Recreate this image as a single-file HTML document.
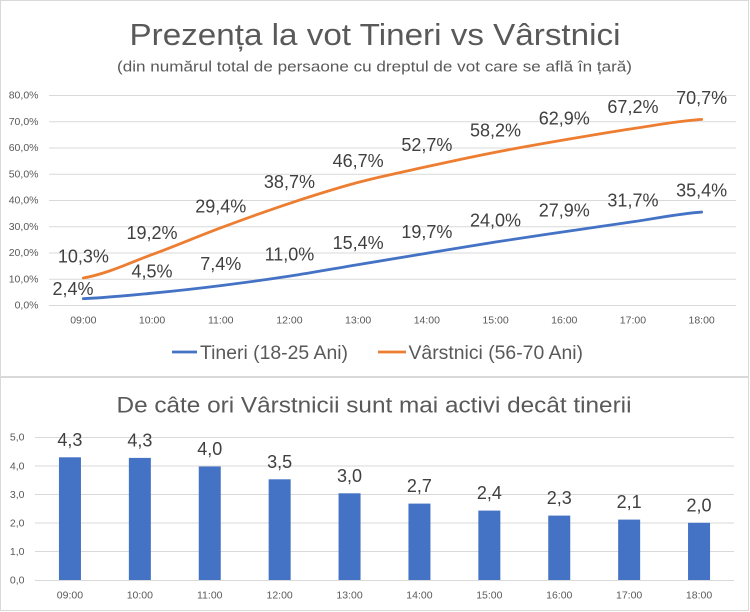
<!DOCTYPE html>
<html>
<head>
<meta charset="utf-8">
<style>
  html, body { margin:0; padding:0; background:#ffffff; }
  svg { display:block; }
  text { font-family: "Liberation Sans", Arial, sans-serif; }
</style>
</head>
<body>
<svg width="750" height="612" viewBox="0 0 750 612" xmlns="http://www.w3.org/2000/svg">
  <rect x="0" y="0" width="750" height="612" fill="#ffffff"/>
  <!-- panel borders -->
  <rect x="0.5" y="0.5" width="748" height="376" fill="#ffffff" stroke="#d9d9d9" stroke-width="1"/>
  <rect x="0.5" y="377.5" width="748" height="233" fill="#ffffff" stroke="#d9d9d9" stroke-width="1"/>

  <!-- ===== TOP CHART ===== -->
  <text x="129.5" y="45" font-size="31" fill="#595959" textLength="491" lengthAdjust="spacingAndGlyphs">Prezența la vot Tineri vs Vârstnici</text>
  <text x="117" y="71.5" font-size="15" fill="#595959" textLength="515" lengthAdjust="spacingAndGlyphs">(din numărul total de persaone cu dreptul de vot care se află în țară)</text>

  <!-- gridlines -->
  <g stroke="#d9d9d9" stroke-width="1">
    <line x1="49" y1="95.5" x2="736" y2="95.5"/>
    <line x1="49" y1="121.75" x2="736" y2="121.75"/>
    <line x1="49" y1="148" x2="736" y2="148"/>
    <line x1="49" y1="174.25" x2="736" y2="174.25"/>
    <line x1="49" y1="200.5" x2="736" y2="200.5"/>
    <line x1="49" y1="226.75" x2="736" y2="226.75"/>
    <line x1="49" y1="253" x2="736" y2="253"/>
    <line x1="49" y1="279.25" x2="736" y2="279.25"/>
    <line x1="49" y1="305.5" x2="736" y2="305.5"/>
  </g>

  <!-- y labels -->
  <g font-size="10.5" fill="#595959" text-anchor="end">
    <text x="38.5" y="98.7">80,0%</text>
    <text x="38.5" y="124.9">70,0%</text>
    <text x="38.5" y="151.2">60,0%</text>
    <text x="38.5" y="177.4">50,0%</text>
    <text x="38.5" y="203.7">40,0%</text>
    <text x="38.5" y="229.9">30,0%</text>
    <text x="38.5" y="256.2">20,0%</text>
    <text x="38.5" y="282.4">10,0%</text>
    <text x="38.5" y="308.7">0,0%</text>
  </g>

  <!-- x labels -->
  <g font-size="10.5" fill="#595959" text-anchor="middle">
    <text x="83.35" y="323.3">09:00</text>
    <text x="152.05" y="323.3">10:00</text>
    <text x="220.75" y="323.3">11:00</text>
    <text x="289.45" y="323.3">12:00</text>
    <text x="358.15" y="323.3">13:00</text>
    <text x="426.85" y="323.3">14:00</text>
    <text x="495.55" y="323.3">15:00</text>
    <text x="564.25" y="323.3">16:00</text>
    <text x="632.95" y="323.3">17:00</text>
    <text x="701.65" y="323.3">18:00</text>
  </g>

  <!-- series -->
  <path fill="none" stroke="#4472C4" stroke-width="2.8" stroke-linecap="round" stroke-linejoin="round"
    d="M83.35,298.7 C106.25,297.78 129.15,295.38 152.05,293.19 C174.95,291.0 197.85,288.42 220.75,285.58 C243.65,282.74 266.55,279.63 289.45,276.13 C312.35,272.63 335.25,268.39 358.15,264.58 C381.05,260.77 403.95,257.05 426.85,253.29 C449.75,249.53 472.65,245.59 495.55,242 C518.45,238.41 541.35,235.13 564.25,231.76 C587.15,228.39 610.05,225.07 632.95,221.79 C655.85,218.51 678.75,213.7 701.65,212.08"/>
  <path fill="none" stroke="#ED7D31" stroke-width="2.8" stroke-linecap="round" stroke-linejoin="round"
    d="M83.35,277.96 C106.25,274.07 129.15,262.96 152.05,254.6 C174.95,246.25 197.85,236.36 220.75,227.83 C243.65,219.3 266.55,210.98 289.45,203.41 C312.35,195.84 335.25,188.54 358.15,182.41 C381.05,176.29 403.95,171.69 426.85,166.66 C449.75,161.63 472.65,156.69 495.55,152.23 C518.45,147.77 541.35,143.83 564.25,139.89 C587.15,135.95 610.05,132.01 632.95,128.6 C655.85,125.19 678.75,120.94 701.65,119.41"/>

  <!-- data labels orange -->
  <g font-size="18" fill="#404040" text-anchor="middle">
    <text x="83.35" y="262.5">10,3%</text>
    <text x="152.05" y="239.1">19,2%</text>
    <text x="220.75" y="212.3">29,4%</text>
    <text x="289.45" y="187.9">38,7%</text>
    <text x="358.15" y="166.9">46,7%</text>
    <text x="426.85" y="151.2">52,7%</text>
    <text x="495.55" y="136.7">58,2%</text>
    <text x="564.25" y="124.4">62,9%</text>
    <text x="632.95" y="113.1">67,2%</text>
    <text x="701.65" y="103.9">70,7%</text>
  </g>
  <!-- data labels blue -->
  <g font-size="18" fill="#404040" text-anchor="middle">
    <text x="73" y="295">2,4%</text>
    <text x="152.05" y="277.7">4,5%</text>
    <text x="220.75" y="270.1">7,4%</text>
    <text x="289.45" y="260.6">11,0%</text>
    <text x="358.15" y="249.1">15,4%</text>
    <text x="426.85" y="237.8">19,7%</text>
    <text x="495.55" y="226.5">24,0%</text>
    <text x="564.25" y="216.3">27,9%</text>
    <text x="632.95" y="206.3">31,7%</text>
    <text x="701.65" y="196.6">35,4%</text>
  </g>

  <!-- legend -->
  <line x1="172" y1="352" x2="197" y2="352" stroke="#4472C4" stroke-width="2.8"/>
  <text x="200" y="359" font-size="19.5" fill="#595959" textLength="148" lengthAdjust="spacingAndGlyphs">Tineri (18-25 Ani)</text>
  <line x1="378" y1="352" x2="406" y2="352" stroke="#ED7D31" stroke-width="2.8"/>
  <text x="408.5" y="359" font-size="19.5" fill="#595959" textLength="174.5" lengthAdjust="spacingAndGlyphs">Vârstnici (56-70 Ani)</text>

  <!-- ===== BOTTOM CHART ===== -->
  <text x="116.5" y="412.7" font-size="22" fill="#595959" textLength="515" lengthAdjust="spacingAndGlyphs">De câte ori Vârstnicii sunt mai activi decât tinerii</text>

  <g stroke="#d9d9d9" stroke-width="1">
    <line x1="35" y1="437.5" x2="734" y2="437.5"/>
    <line x1="35" y1="466" x2="734" y2="466"/>
    <line x1="35" y1="494.5" x2="734" y2="494.5"/>
    <line x1="35" y1="523" x2="734" y2="523"/>
    <line x1="35" y1="551.5" x2="734" y2="551.5"/>
    <line x1="35" y1="580.5" x2="734" y2="580.5"/>
  </g>

  <g font-size="10.5" fill="#595959" text-anchor="end">
    <text x="24.5" y="440.7">5,0</text>
    <text x="24.5" y="469.3">4,0</text>
    <text x="24.5" y="497.8">3,0</text>
    <text x="24.5" y="526.4">2,0</text>
    <text x="24.5" y="554.9">1,0</text>
    <text x="24.5" y="583.6">0,0</text>
  </g>

  <g fill="#4472C4">
    <rect x="58.95" y="457.3" width="22" height="122.7"/>
    <rect x="128.85" y="457.9" width="22" height="122.1"/>
    <rect x="198.75" y="466.5" width="22" height="113.5"/>
    <rect x="268.65" y="479.3" width="22" height="100.7"/>
    <rect x="338.55" y="493.3" width="22" height="86.7"/>
    <rect x="408.45" y="503.6" width="22" height="76.4"/>
    <rect x="478.35" y="510.6" width="22" height="69.4"/>
    <rect x="548.25" y="515.6" width="22" height="64.4"/>
    <rect x="618.15" y="519.6" width="22" height="60.4"/>
    <rect x="688.05" y="522.8" width="22" height="57.2"/>
  </g>

  <g font-size="18" fill="#404040" text-anchor="middle">
    <text x="69.95" y="446">4,3</text>
    <text x="139.85" y="446.5">4,3</text>
    <text x="209.75" y="455">4,0</text>
    <text x="279.65" y="467.8">3,5</text>
    <text x="349.55" y="481.8">3,0</text>
    <text x="419.45" y="492.1">2,7</text>
    <text x="489.35" y="499.1">2,4</text>
    <text x="559.25" y="504.1">2,3</text>
    <text x="629.15" y="508.1">2,1</text>
    <text x="699.05" y="511.3">2,0</text>
  </g>

  <g font-size="10.5" fill="#595959" text-anchor="middle">
    <text x="69.95" y="598.3">09:00</text>
    <text x="139.85" y="598.3">10:00</text>
    <text x="209.75" y="598.3">11:00</text>
    <text x="279.65" y="598.3">12:00</text>
    <text x="349.55" y="598.3">13:00</text>
    <text x="419.45" y="598.3">14:00</text>
    <text x="489.35" y="598.3">15:00</text>
    <text x="559.25" y="598.3">16:00</text>
    <text x="629.15" y="598.3">17:00</text>
    <text x="699.05" y="598.3">18:00</text>
  </g>
</svg>
</body>
</html>
